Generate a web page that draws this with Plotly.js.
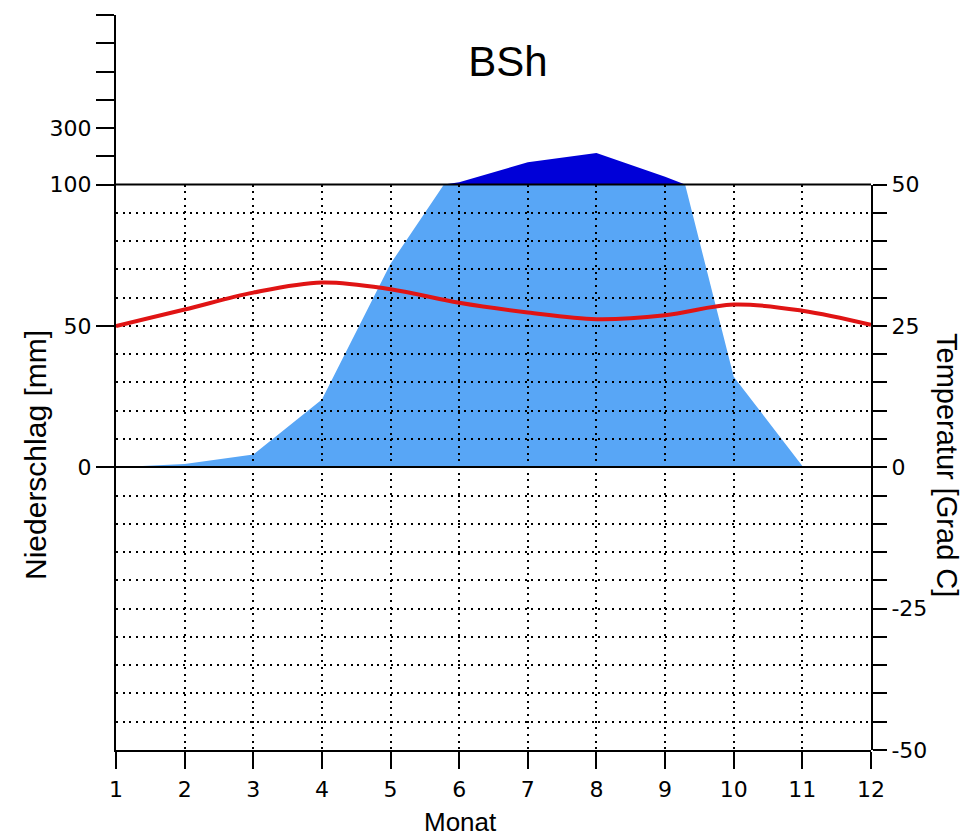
<!DOCTYPE html>
<html>
<head>
<meta charset="utf-8">
<script src="https://cdn.plot.ly/plotly-3.0.1.min.js"></script>
<style>
  html, body { margin: 0; padding: 0; background: #ffffff; }
  #chart { width: 965px; height: 839px; }
</style>
</head>
<body>
<div id="chart"></div>
<script>
// ---- data ----
const months = [1, 2, 3, 4, 5, 6, 7, 8, 9, 10, 11, 12];
const monthLabels = ['1', '2', '3', '4', '5', '6', '7', '8', '9', '10', '11', '12'];
const temperature = [25, 27.9, 30.9, 32.7, 31.5, 29.1, 27.4, 26.2, 26.9, 28.8, 27.7, 25.2]; // Grad C
const precipitation = [0, 1.2, 4.5, 24, 72, 108, 179, 212, 128, 32, 0.5, 0.5];          // mm
const precipTicks = [0, 50, 100, 200, 300, 400, 500, 600, 700];
const precipTickLabels = ['0', '50', '100', '', '300', '', '', '', ''];
const tempTicks = [-50, -45, -40, -35, -30, -25, -20, -15, -10, -5, 0, 5, 10, 15, 20, 25, 30, 35, 40, 45, 50];
const tempTickLabels = ['-50', '', '', '', '', '-25', '', '', '', '', '0', '', '', '', '', '25', '', '', '', '', '50'];

// precipitation display scale: 2 mm per degree up to 100 mm, compressed 1:10 above
const LIMIT = 100;
function disp(p) { return p <= LIMIT ? p : LIMIT + (p - LIMIT) / 10; }

// light area: precipitation clipped at 100 mm (with crossing points)
const lightX = [], lightY = [], crossings = [];
for (let i = 0; i < months.length; i++) {
  lightX.push(months[i]);
  lightY.push(Math.min(precipitation[i], LIMIT));
  if (i < months.length - 1) {
    const a = precipitation[i], b = precipitation[i + 1];
    if ((a - LIMIT) * (b - LIMIT) < 0) {
      const t = (LIMIT - a) / (b - a);
      const xc = months[i] + t * (months[i + 1] - months[i]);
      lightX.push(xc); lightY.push(LIMIT);
      crossings.push(xc);
    }
  }
}
// dark area: compressed part above 100 mm
const darkX = [], darkY = [];
if (crossings.length >= 2) {
  darkX.push(crossings[0]); darkY.push(LIMIT);
  for (let i = 0; i < months.length; i++) {
    if (precipitation[i] > LIMIT && months[i] > crossings[0] && months[i] < crossings[1]) {
      darkX.push(months[i]); darkY.push(disp(precipitation[i]));
    }
  }
  darkX.push(crossings[1]); darkY.push(LIMIT);
}

const tickFont = { family: 'DejaVu Sans, Verdana, sans-serif', size: 22, color: '#000000' };
const dotDash = '2px,4.7px';
const tempDomain = [0, 200 / 260];

const traces = [
  { x: lightX, y: lightY, xaxis: 'x', yaxis: 'y', type: 'scatter', mode: 'lines',
    fill: 'tozeroy', fillcolor: '#58a6f6', line: { width: 0, color: '#58a6f6' }, hoverinfo: 'skip' },
  { x: darkX, y: darkY, xaxis: 'x', yaxis: 'y', type: 'scatter', mode: 'lines',
    fill: 'toself', fillcolor: '#0000d8', line: { width: 0, color: '#0000d8' }, hoverinfo: 'skip' },
  { x: months, y: temperature, xaxis: 'x2', yaxis: 'y2', type: 'scatter', mode: 'lines',
    line: { color: '#e01414', width: 4, shape: 'spline', smoothing: 1 } }
];

const layout = {
  width: 965, height: 839,
  margin: { l: 116, r: 94, t: 15, b: 89, pad: 0 },
  paper_bgcolor: '#ffffff', plot_bgcolor: 'rgba(0,0,0,0)',
  showlegend: false,
  title: { text: 'BSh', font: { family: 'Liberation Sans, Arial, sans-serif', size: 42, color: '#000000' },
           xref: 'container', yref: 'container', x: 508 / 965, xanchor: 'center', y: 1 - 61 / 839, yanchor: 'middle' },
  xaxis: { domain: [0, 1], range: [1, 12], anchor: 'y', tickvals: months, ticktext: monthLabels,
           ticks: 'outside', ticklen: 17, tickwidth: 2, tickcolor: '#000', showline: true, linewidth: 2, linecolor: '#000',
           showgrid: false, zeroline: false, tickfont: tickFont, ticklabelstandoff: 2, fixedrange: true },
  yaxis: { domain: [0, 1], range: [-100, 160], anchor: 'x', side: 'left',
           tickvals: precipTicks.map(disp), ticktext: precipTickLabels,
           ticks: 'outside', ticklen: 18, tickwidth: 2, tickcolor: '#000', showline: true, linewidth: 2, linecolor: '#000',
           showgrid: false, zeroline: false, tickfont: tickFont, fixedrange: true },
  xaxis2: { domain: [0, 1], range: [1, 12], anchor: 'y2', tickvals: months, showticklabels: false, ticks: '',
            showline: false, showgrid: true, gridcolor: '#000', gridwidth: 2, griddash: dotDash, zeroline: false, fixedrange: true },
  yaxis2: { domain: tempDomain, range: [-50, 50], anchor: 'x2', side: 'right',
            tickvals: tempTicks, ticktext: tempTickLabels,
            ticks: 'outside', ticklen: 14, tickwidth: 2, tickcolor: '#000', showline: true, linewidth: 2, linecolor: '#000',
            showgrid: true, gridcolor: '#000', gridwidth: 2, griddash: dotDash,
            zeroline: true, zerolinecolor: '#000', zerolinewidth: 2, tickfont: tickFont, fixedrange: true },
  shapes: [
    // solid frame line at the top of the temperature axis (50 Grad C / 100 mm)
    { type: 'line', xref: 'paper', yref: 'paper', x0: 0, x1: 1, y0: tempDomain[1], y1: tempDomain[1],
      line: { color: '#000', width: 2 }, layer: 'above' }
  ],
  annotations: [
    { text: 'Niederschlag [mm]', xref: 'paper', yref: 'paper', x: (35 - 116) / 755, y: (750 - 455) / 735,
      xanchor: 'center', yanchor: 'middle', textangle: -90, showarrow: false,
      font: { family: 'Liberation Sans, Arial, sans-serif', size: 30, color: '#000' } },
    { text: 'Temperatur [Grad C]', xref: 'paper', yref: 'paper', x: (947 - 116) / 755, y: (750 - 465) / 735,
      xanchor: 'center', yanchor: 'middle', textangle: 90, showarrow: false,
      font: { family: 'Liberation Sans, Arial, sans-serif', size: 29, color: '#000' } },
    { text: 'Monat', xref: 'paper', yref: 'paper', x: (460 - 116) / 755, y: (750 - 822) / 735,
      xanchor: 'center', yanchor: 'middle', showarrow: false,
      font: { family: 'Liberation Sans, Arial, sans-serif', size: 26, color: '#000' } }
  ]
};

Plotly.newPlot('chart', traces, layout, { displayModeBar: false, staticPlot: true });
</script>
</body>
</html>
